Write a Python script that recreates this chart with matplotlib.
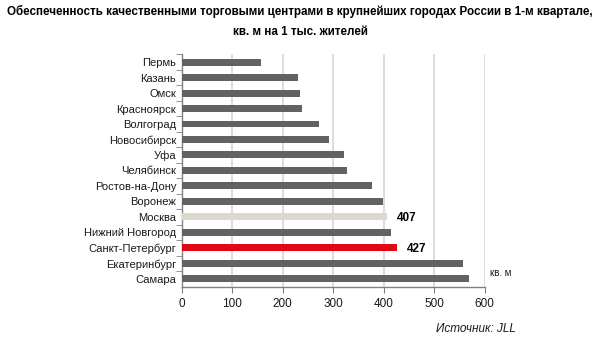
import matplotlib
matplotlib.use("Agg")
import matplotlib.pyplot as plt

cities = ["Пермь", "Казань", "Омск", "Красноярск", "Волгоград", "Новосибирск", "Уфа",
          "Челябинск", "Ростов-на-Дону", "Воронеж", "Москва", "Нижний Новгород",
          "Санкт-Петербург", "Екатеринбург", "Самара"]
values = [156, 230, 235, 239, 271, 292, 322, 328, 377, 399, 407, 414, 427, 557, 569]
highlight = {"Москва": "#ddd8cc", "Санкт-Петербург": "#e30613"}
labelled = ["Москва", "Санкт-Петербург"]
xticks = [0, 100, 200, 300, 400, 500, 600]

plt.rcParams['font.family'] = ["Liberation Sans", "DejaVu Sans"]

fig = plt.figure(figsize=(6, 3.47), dpi=100)
ax = fig.add_axes([0.303, 0.174, 0.505, 0.6695])

ypos = list(range(len(cities)))
colors = [highlight.get(c, "#616264") for c in cities]
ax.barh(ypos, values, height=0.45, color=colors, zorder=3)
ax.set_ylim(len(cities) - 0.5, -0.5)
ax.set_xlim(0, 600)

ax.set_yticks(ypos)
ax.set_yticklabels(cities, fontsize=8, color="#1a1a1a")
ax.set_yticks([y + 0.5 for y in ypos[:-1]] + [-0.5], minor=True)
ax.tick_params(axis="y", which="major", length=0, pad=4)
ax.tick_params(axis="y", which="minor", length=4, color="#808080", direction="out")
ax.set_xticks(xticks)
ax.set_xticklabels([str(x) for x in xticks], fontsize=8.5, color="#1a1a1a")
ax.tick_params(axis="x", length=4, color="#808080", pad=4)

ax.grid(axis="x", color="#d9d9d9", linewidth=1.3, zorder=0)
for s in ["top", "right"]:
    ax.spines[s].set_visible(False)
for s in ["left", "bottom"]:
    ax.spines[s].set_color("#808080")
    ax.spines[s].set_linewidth(1.0)

for c in labelled:
    i = cities.index(c)
    ax.text(values[i] + 18, i + 0.1, str(values[i]), va="center", ha="left",
            fontsize=8.5, fontweight="bold", color="#000000")

ax.text(610, len(cities) - 1 - 0.4, "кв. м", fontsize=7, va="center", ha="left",
        color="#1a1a1a", clip_on=False)

fig.text(0.5, 0.967, "Обеспеченность качественными торговыми центрами в крупнейших городах России в 1-м квартале,",
         ha="center", va="center", fontsize=8.4, fontweight="bold")
fig.text(0.5, 0.908, "кв. м на 1 тыс. жителей",
         ha="center", va="center", fontsize=8.4, fontweight="bold")
fig.text(0.727, 0.052, "Источник: JLL", ha="left", va="center", fontsize=8.5,
         style="italic", color="#1a1a1a")

fig.savefig("out.png", dpi=100)
